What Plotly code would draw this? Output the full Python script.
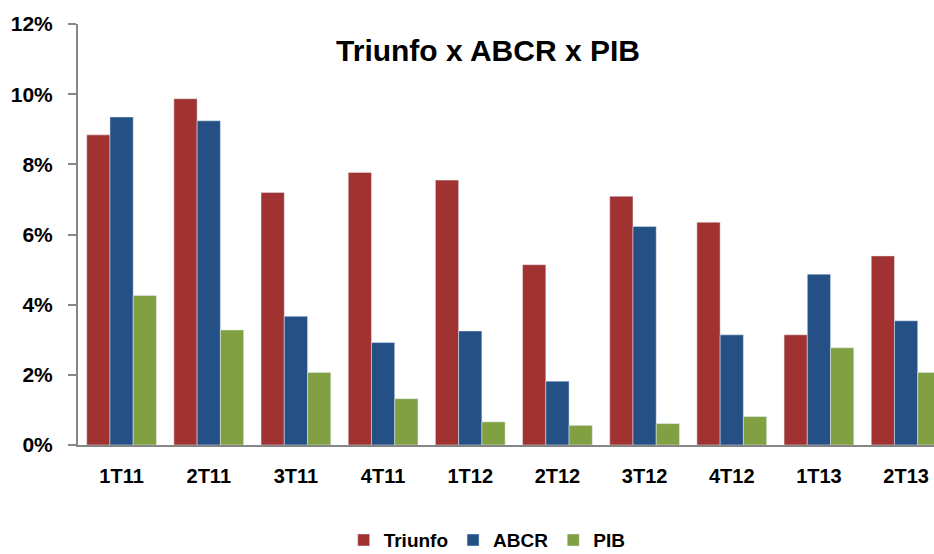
import plotly.graph_objects as go

categories = ["1T11", "2T11", "3T11", "4T11", "1T12", "2T12", "3T12", "4T12", "1T13", "2T13"]
triunfo = [8.84, 9.87, 7.20, 7.77, 7.55, 5.14, 7.09, 6.35, 3.14, 5.39]
abcr = [9.35, 9.24, 3.67, 2.92, 3.25, 1.82, 6.23, 3.14, 4.87, 3.54]
pib = [4.26, 3.28, 2.07, 1.32, 0.66, 0.56, 0.61, 0.81, 2.77, 2.07]
y_ticks = [0, 2, 4, 6, 8, 10, 12]
y_tick_labels = [f"{v}%" for v in y_ticks]

FONT = "Liberation Sans, Arial, sans-serif"

fig = go.Figure()
fig.add_trace(go.Bar(name="<b>Triunfo</b>", x=categories, y=triunfo, marker_color="#A03331"))
fig.add_trace(go.Bar(name="<b>ABCR</b>", x=categories, y=abcr, marker_color="#255086"))
fig.add_trace(go.Bar(name="<b>PIB</b>", x=categories, y=pib, marker_color="#80A042"))

fig.update_layout(
    width=934, height=554,
    margin=dict(l=78, r=0, t=24, b=109, autoexpand=False),
    paper_bgcolor="white", plot_bgcolor="white",
    barmode="group", bargap=0.2, bargroupgap=0,
    font=dict(family=FONT, color="black"),
    title=dict(text="<b>Triunfo x ABCR x PIB</b>", x=488 / 934, xanchor="center",
               y=1 - 50 / 554, yanchor="middle", font=dict(size=30, family=FONT, color="black")),
    legend=dict(orientation="h", x=0.478, xanchor="center", y=-0.226, yanchor="middle",
                font=dict(size=19, family=FONT, color="black"),
                itemwidth=30, tracegroupgap=0, traceorder="normal"),
    showlegend=True,
)
fig.update_xaxes(
    type="category", range=[-0.5, 9.32],
    tickvals=categories, ticktext=[f"<b>{c}</b>" for c in categories],
    showline=True, linecolor="#868686", linewidth=2,
    ticks="", showgrid=False, zeroline=False,
    tickfont=dict(size=20, family=FONT, color="black"),
    ticklabelstandoff=12,
)
fig.update_yaxes(
    range=[0, 12], tickvals=y_ticks, ticktext=[f"<b>{t}</b>" for t in y_tick_labels],
    showline=True, linecolor="#868686", linewidth=2,
    ticks="outside", ticklen=8, tickcolor="#868686", tickwidth=2,
    showgrid=False, zeroline=False,
    tickfont=dict(size=21, family=FONT, color="black"),
    ticklabelstandoff=11,
)

fig.write_html("out.html", config={"displayModeBar": False},
               post_script="document.body.style.margin='0';document.body.style.overflow='hidden';")
